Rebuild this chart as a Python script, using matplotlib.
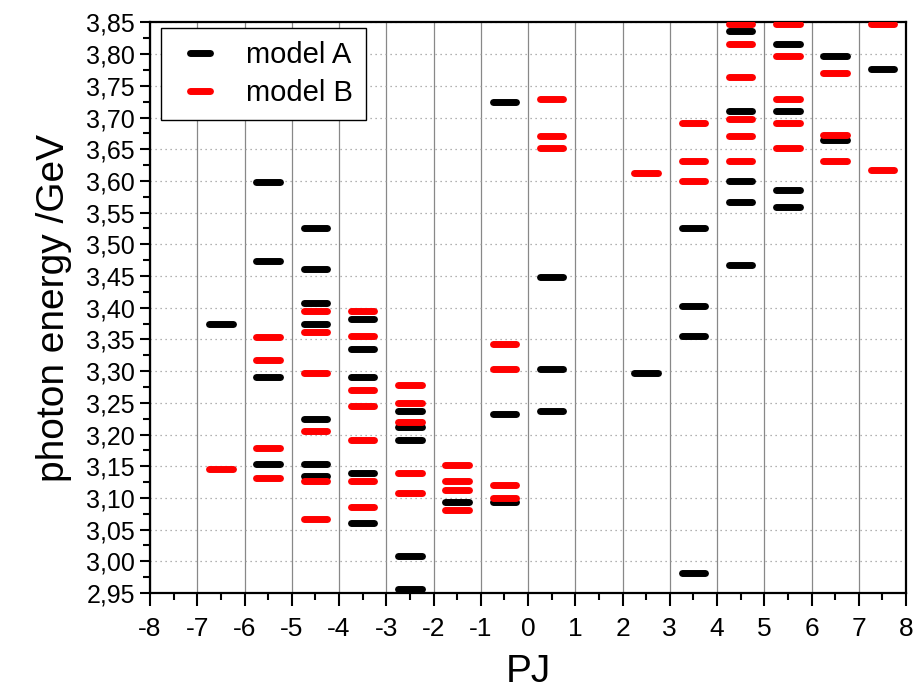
import matplotlib
matplotlib.use('Agg')
import matplotlib.pyplot as plt
from matplotlib.lines import Line2D
from matplotlib.markers import MarkerStyle
from matplotlib.ticker import MultipleLocator, FuncFormatter

plt.rcParams['font.family'] = ['Liberation Sans', 'DejaVu Sans']
plt.rcParams['axes.unicode_minus'] = False

# Energieniveaus je PJ-Spalte (Modell A)
pj_a = [-6.5,
        -5.5, -5.5, -5.5, -5.5,
        -4.5, -4.5, -4.5, -4.5, -4.5, -4.5, -4.5,
        -3.5, -3.5, -3.5, -3.5, -3.5,
        -2.5, -2.5, -2.5, -2.5, -2.5,
        -1.5,
        -0.5, -0.5, -0.5,
        0.5, 0.5, 0.5,
        2.5,
        3.5, 3.5, 3.5, 3.5,
        4.5, 4.5, 4.5, 4.5, 4.5,
        5.5, 5.5, 5.5, 5.5,
        6.5, 6.5,
        7.5]
energy_a = [3.374,
            3.599, 3.474, 3.291, 3.153,
            3.526, 3.461, 3.408, 3.375, 3.225, 3.153, 3.134,
            3.382, 3.335, 3.291, 3.139, 3.061,
            3.237, 3.212, 3.192, 3.008, 2.956,
            3.094,
            3.724, 3.232, 3.094,
            3.449, 3.304, 3.237,
            3.297,
            3.526, 3.402, 3.355, 2.981,
            3.836, 3.711, 3.600, 3.567, 3.467,
            3.816, 3.711, 3.585, 3.559,
            3.797, 3.664,
            3.776]

# Modell B
pj_b = [-6.5,
        -5.5, -5.5, -5.5, -5.5,
        -4.5, -4.5, -4.5, -4.5, -4.5, -4.5,
        -3.5, -3.5, -3.5, -3.5, -3.5, -3.5, -3.5,
        -2.5, -2.5, -2.5, -2.5, -2.5,
        -1.5, -1.5, -1.5, -1.5,
        -0.5, -0.5, -0.5, -0.5,
        0.5, 0.5, 0.5,
        2.5,
        3.5, 3.5, 3.5,
        4.5, 4.5, 4.5, 4.5, 4.5, 4.5,
        5.5, 5.5, 5.5, 5.5, 5.5,
        6.5, 6.5, 6.5,
        7.5, 7.5]
energy_b = [3.145,
            3.354, 3.317, 3.178, 3.132,
            3.395, 3.361, 3.297, 3.206, 3.126, 3.067,
            3.395, 3.356, 3.271, 3.245, 3.191, 3.126, 3.086,
            3.278, 3.250, 3.219, 3.139, 3.107,
            3.152, 3.126, 3.113, 3.081,
            3.342, 3.304, 3.120, 3.100,
            3.730, 3.671, 3.652,
            3.612,
            3.692, 3.631, 3.600,
            3.848, 3.816, 3.764, 3.698, 3.671, 3.631,
            3.848, 3.797, 3.730, 3.691, 3.652,
            3.770, 3.672, 3.631,
            3.848, 3.618]

half = 0.25  # halbe Strichbreite in PJ-Einheiten

fig = plt.figure(figsize=(9.16, 6.92), dpi=100)
ax = fig.add_axes([0.1638, 0.1431, 0.8253, 0.8244])

la = ax.hlines(energy_a, [x - half for x in pj_a], [x + half for x in pj_a],
               colors='black', linewidth=5, zorder=3)
lb = ax.hlines(energy_b, [x - half for x in pj_b], [x + half for x in pj_b],
               colors='red', linewidth=5, zorder=4)
la.set_capstyle('round')
lb.set_capstyle('round')

ax.set_xlim(-8, 8)
ax.set_ylim(2.95, 3.85)

ax.xaxis.set_major_locator(MultipleLocator(1))
ax.xaxis.set_minor_locator(MultipleLocator(0.5))
ax.yaxis.set_major_locator(MultipleLocator(0.05))
ax.yaxis.set_minor_locator(MultipleLocator(0.025))
ax.yaxis.set_major_formatter(FuncFormatter(lambda v, p: f'{v:.2f}'.replace('.', ',')))

ax.tick_params(which='major', direction='out', labelsize=18, width=1.5)
ax.tick_params(axis='x', which='major', length=9, pad=8, labelsize=19)
ax.tick_params(axis='x', which='minor', length=5, width=1.5)
ax.tick_params(axis='y', which='major', length=7, pad=4)
ax.tick_params(axis='y', which='minor', length=5, width=1.5)

for s in ax.spines.values():
    s.set_linewidth(1.6)

ax.grid(True, axis='x', which='major', color='#888888', linewidth=0.9, linestyle='-')
ax.grid(True, axis='y', which='major', color='#999999', linewidth=0.9, linestyle=(0, (1, 3)))
ax.set_axisbelow(True)

ax.set_xlabel('PJ', fontsize=28, labelpad=10)
ax.set_ylabel('photon energy /GeV', fontsize=28, labelpad=10)

# Legendenstriche als kurze Marker mittig im Handle-Feld
dash = MarkerStyle('_', capstyle='round')
handles = [Line2D([], [], color='black', linestyle='none', marker=dash,
                  markersize=14, markeredgewidth=5),
           Line2D([], [], color='red', linestyle='none', marker=dash,
                  markersize=14, markeredgewidth=5)]
leg = ax.legend(handles, ['model A', 'model B'], loc='upper left',
                bbox_to_anchor=(0.0146, 0.991), borderaxespad=0,
                fontsize=21, handlelength=1.78, handletextpad=0.68,
                labelspacing=0.35, borderpad=0.45, fancybox=False,
                framealpha=1, edgecolor='black', numpoints=1)
leg.get_frame().set_linewidth(1.0)
leg.set_zorder(5)

fig.savefig('out.png', dpi=100)
